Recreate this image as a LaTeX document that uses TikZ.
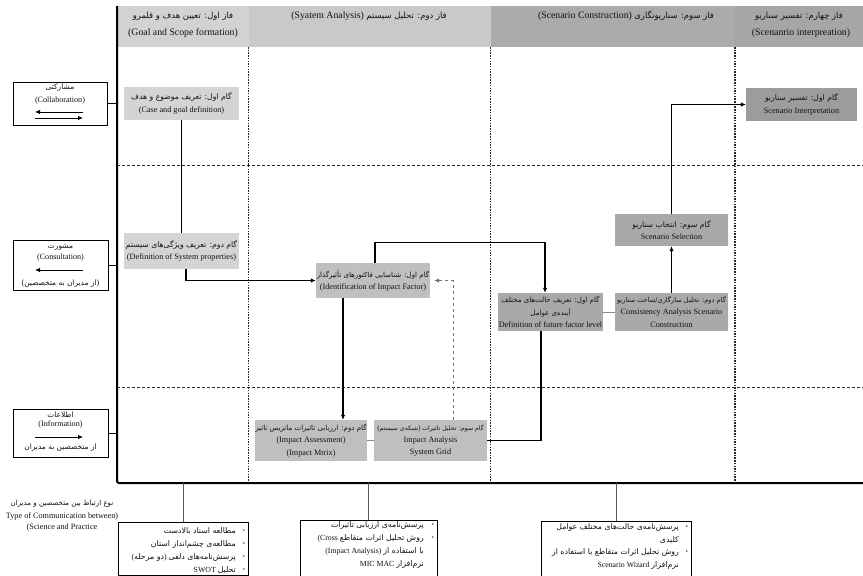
\documentclass[tikz,border=0pt]{standalone}
\usepackage{fontspec}
\setmainfont{Liberation Serif}
\newfontfamily\fafont[Script=Arabic,Scale=0.86]{DejaVu Sans}
\newfontfamily\fafontb[Script=Arabic,Scale=1.0]{DejaVu Sans}
\newfontfamily\fafontc[Script=Arabic,Scale=0.92]{DejaVu Sans}
\TeXXeTstate=1
\usetikzlibrary{arrows.meta}
\newcommand{\fatxt}[1]{{\fafont\beginR #1\endR}}
\newcommand{\fatxtb}[1]{{\fafontb\beginR #1\endR}}
\newcommand{\fatxtc}[1]{{\fafontc\beginR #1\endR}}
\newcommand{\bigfa}[1]{{\fontsize{8.9}{12.3}\selectfont\fatxt{#1}}}
\definecolor{hA}{HTML}{D2D2D2}
\definecolor{hB}{HTML}{C8C9C9}
\definecolor{hC}{HTML}{ABABAB}
\definecolor{hD}{HTML}{A6A6A6}
\definecolor{bA}{HTML}{D4D4D4}
\definecolor{bB}{HTML}{BFBFBF}
\definecolor{bC}{HTML}{A9A9A9}
\definecolor{bD}{HTML}{9C9C9C}
\definecolor{txt}{HTML}{111111}
\tikzset{
  stepbox/.style={fill=#1, draw=none, align=center, inner sep=0pt, text=txt, font=\fontsize{8.2}{12.3}\selectfont},
  sidebox/.style={draw=black, line width=0.8pt, fill=white, inner sep=0pt},
  sidetext/.style={inner sep=0pt, text=txt, font=\fontsize{8.1}{9}\selectfont},
  legtext/.style={inner sep=0pt, text=txt, font=\fontsize{8.2}{9}\selectfont},
  hdr/.style={inner sep=0pt, text=txt, font=\fontsize{9.8}{10}\selectfont},
  listbox/.style={draw=black, line width=0.8pt, fill=white, inner sep=0pt, anchor=north west},
  listtext/.style={inner sep=0pt, anchor=east, text=txt, font=\fontsize{7.8}{9}\selectfont},
  bul/.style={inner sep=0pt, text=txt, font=\fontsize{6}{7}\selectfont},
  conn/.style={line width=1.1pt, black},
  arr/.style={conn, -{Latex[length=5pt,width=4.5pt]}},
  thinarr/.style={line width=0.8pt, black, -{Latex[length=5pt,width=4.5pt]}},
  link/.style={line width=1pt, black!45},
  dasharr/.style={line width=0.8pt, black!55, dash pattern=on 3pt off 3pt, -{Latex[length=5pt,width=4.5pt]}},
  vgrid/.style={line width=1.3pt, black!85, dash pattern=on 1.5pt off 1.2pt},
  hgrid/.style={line width=0.9pt, black!85, dash pattern=on 3pt off 2pt},
  stem/.style={line width=0.9pt, black!65},
}
\begin{document}
\begin{tikzpicture}[x=1pt,y=-1pt]
\useasboundingbox (0,0) rectangle (863,576);
% header band
\fill[hA] (117,6) rectangle (248.5,47);
\fill[hB] (248.5,6) rectangle (490.5,47);
\fill[hC] (490.5,6) rectangle (735,47);
\fill[hD] (735,6) rectangle (863,47);
\node[hdr] (h1a) at (183,16) {\fatxt{فاز اول: تعیین هدف و قلمرو}};
\node[hdr] (h1b) at (183,33) {(Goal and Scope formation)};
\node[hdr] (h2) at (369,16) {(Syatem Analysis) \fatxt{فاز دوم: تحلیل سیستم}};
\node[hdr] (h3) at (626,16) {(Scenario Construction) \fatxt{فاز سوم: سناریونگاری}};
\node[hdr] (h4a) at (799,16) {\fatxt{فاز چهارم: تفسیر سناریو}};
\node[hdr] (h4b) at (801,33) {(Scenanrio interpreation)};
% grid
\coordinate (mainTop) at (117,6);
\coordinate (mainBot) at (117,483);
\coordinate (mainEnd) at (863,483);
\draw[vgrid] (248.5,47) -- (248.5,483);
\draw[vgrid] (490.5,47) -- (490.5,483);
\draw[vgrid] (735,47) -- (735,483);
\draw[hgrid] (117,165) -- (863,165);
\draw[hgrid] (117,387) -- (863,387);
\draw[line width=2pt, rounded corners=2pt] (mainTop) -- (mainBot) -- (mainEnd);
% side boxes
\node[sidebox, minimum width=94, minimum height=43] (collab) at (60,103.5) {};
\node[sidetext] (collabfa) at (60,88) {\fatxtc{مشارکتی}};
\node[sidetext] (collaben) at (60,101) {(Collaboration)};
\coordinate (ca1) at (35,112); \coordinate (ca2) at (83,112);
\coordinate (cb1) at (35,118); \coordinate (cb2) at (83,118);
\draw[thinarr] (ca2) -- (ca1);
\draw[thinarr] (cb1) -- (cb2);
\draw[line width=0.8pt] (collab.east) -- (collab.east -| mainTop);

\node[sidebox, minimum width=95, minimum height=50] (consult) at (60.5,265) {};
\node[sidetext] (consultfa) at (60.5,247) {\fatxtc{مشورت}};
\node[sidetext] (consulten) at (60.5,258) {(Consultation)};
\coordinate (co1) at (35,270); \coordinate (co2) at (83,270);
\draw[thinarr] (co2) -- (co1);
\node[sidetext] (consultnote) at (60.5,284) {(\fatxtc{از مدیران به متخصصین})};
\draw[line width=0.8pt] (consult.east) -- (consult.east -| mainTop);

\node[sidebox, minimum width=95, minimum height=48] (info) at (60.5,433) {};
\node[sidetext] (infofa) at (60.5,414.5) {\fatxtc{اطلاعات}};
\node[sidetext] (infoen) at (60.5,424.5) {(Information)};
\coordinate (in1) at (35,437); \coordinate (in2) at (83,437);
\draw[thinarr] (in1) -- (in2);
\node[sidetext] (infonote) at (60.5,448) {\fatxtc{از متخصصین به مدیران}};
\draw[line width=0.8pt] (info.east) -- (info.east -| mainTop);

% step boxes
\node[stepbox=bA, minimum width=115, minimum height=33] (case) at (181.5,103.5)
  {\bigfa{گام اول: تعریف موضوع و هدف}\\(Case and goal definition)};
\node[stepbox=bA, minimum width=115, minimum height=36] (sysprop) at (181.5,251)
  {\bigfa{گام دوم: تعریف ویژگی‌های سیستم}\\(Definition of System properties)};
\node[stepbox=bB, minimum width=114, minimum height=35] (impfac) at (373,280.5)
  {\fatxt{گام اول: شناسایی فاکتورهای تأثیرگذار}\\(Identification of Impact Factor)};
\node[stepbox=bB, minimum width=112, minimum height=41] (impass) at (311,440.5)
  {\fatxt{گام دوم: ارزیابی تاثیرات ماتریس تاثیر}\\(Impact Assessment)\\(Impact Mtrix)};
\node[stepbox=bB, minimum width=113, minimum height=41] (impana) at (430.5,440.5)
  {{\fontsize{7.1}{12.3}\selectfont(\fatxt{شبکه‌ی سیستم}) \fatxt{گام سوم: تحلیل تاثیرات}}\\Impact Analysis\\System Grid};
\node[stepbox=bC, minimum width=105, minimum height=38] (future) at (550.5,312)
  {\fatxt{گام اول: تعریف حالت‌های مختلف}\\\fatxt{آینده‌ی عوامل}\\Definition of future factor level};
\node[stepbox=bC, minimum width=113, minimum height=38] (consist) at (671.5,312)
  {{\fontsize{7.7}{12.3}\selectfont\fatxt{گام دوم: تحلیل سازگاری/ساخت سناریو}}\\Consistency Analysis Scenario\\Construction};
\node[stepbox=bC, minimum width=113, minimum height=32] (select) at (671.5,230)
  {\bigfa{گام سوم: انتخاب سناریو}\\Scenario Selection};
\node[stepbox=bD, minimum width=111, minimum height=33] (interp) at (801.5,104.5)
  {\bigfa{گام اول: تفسیر سناریو}\\Scenario Interpretation};

% connectors
\draw[conn] (case) -- (sysprop);
\draw[arr] ([xshift=4.5pt]sysprop.south) |- (impfac.west);
\draw[arr] ([xshift=2pt]impfac.north) -- ++(0,-20) -| ([xshift=-5.5pt]future.north);
\draw[arr] ([xshift=-30pt]impfac.south) -- ([xshift=-30pt]impfac.south |- impass.north);
\draw[link] (impass.east) -- (impana.west);
\draw[dasharr] ([xshift=22.5pt]impana.north) |- ([xshift=4pt]impfac.east);
\draw[conn] (impana.east) -| ([xshift=-9.5pt]future.south);
\draw[link] (future.east) -- (consist.west);
\draw[arr] (consist) -- (select);
\draw[thinarr] (select.north) |- (interp.west);

% bottom legend
\node[legtext] (leg1) at (62,504) {\fatxt{نوع ارتباط بین متخصصین و مدیران}};
\node[legtext] (leg2) at (62,516) {Type of Communication between)};
\node[legtext] (leg3) at (62,528) {(Science and Practice};

\node[listbox, minimum width=130, minimum height=53] (bx1) at (118,522) {};
\draw[stem] (bx1.north) -- (bx1.north |- mainBot);
\node[listtext] (b1a) at (236,531) {\fatxtb{مطالعه اسناد بالادست}};
\node[listtext] (b1b) at (236,544.5) {\fatxtb{مطالعه‌ی چشم‌انداز استان}};
\node[listtext] (b1c) at (236,557.5) {(\fatxtb{دو مرحله}) \fatxtb{پرسش‌نامه‌های دلفی}};
\node[listtext] (b1d) at (236,570) {SWOT \fatxtb{تحلیل}};
\foreach \yy/\nm in {531/p1,544.5/p2,557.5/p3,570/p4} \node[bul] (b1\nm) at (244,\yy) {•};

\node[listbox, minimum width=137, minimum height=56] (bx2) at (300,519.5) {};
\draw[stem] (bx2.north) -- (bx2.north |- mainBot);
\node[listtext] (b2a) at (424,525) {\fatxtb{پرسش‌نامه‌ی ارزیابی تاثیرات}};
\node[listtext] (b2b) at (424,538) {(Cross \fatxtb{روش تحلیل اثرات متقاطع}};
\node[listtext] (b2c) at (424,551) {(Impact Analysis) \fatxtb{با استفاده از}};
\node[listtext] (b2d) at (424,564) {MIC MAC \fatxtb{نرم‌افزار}};
\node[bul] (b2p1) at (433,525) {•};
\node[bul] (b2p2) at (433,538) {•};

\node[listbox, minimum width=150, minimum height=55] (bx3) at (541,521) {};
\draw[stem] (bx3.north) -- (bx3.north |- mainBot);
\node[listtext] (b3a) at (679,527) {\fatxtb{پرسش‌نامه‌ی حالت‌های مختلف عوامل}};
\node[listtext] (b3b) at (679,540) {\fatxtb{کلیدی}};
\node[listtext] (b3c) at (679,552.5) {\fatxtb{روش تحلیل اثرات متقاطع با استفاده از}};
\node[listtext] (b3d) at (679,565) {Scenario Wizard \fatxtb{نرم‌افزار}};
\node[bul] (b3p1) at (687,527) {•};
\node[bul] (b3p2) at (687,552.5) {•};
\end{tikzpicture}
\end{document}
